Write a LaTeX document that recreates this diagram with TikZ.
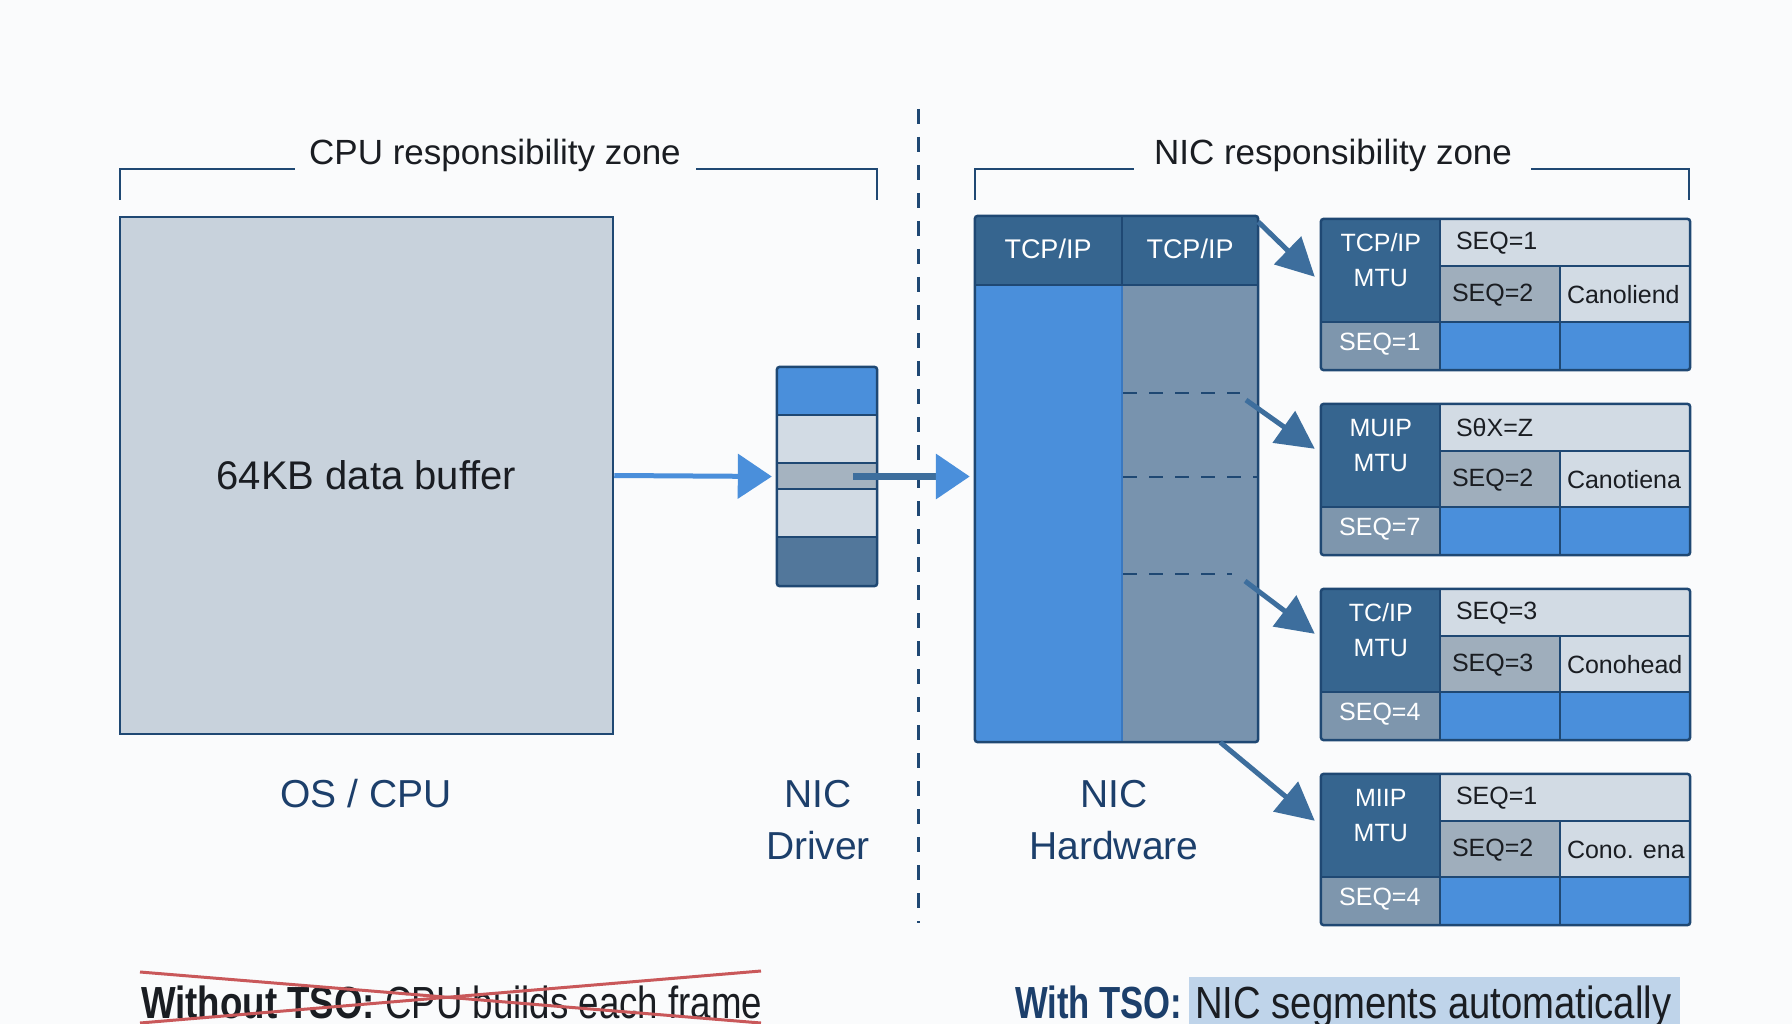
\documentclass[tikz,border=0pt]{standalone}
\usepackage{fontspec}
\setmainfont{Liberation Sans}
\usetikzlibrary{arrows.meta,calc}
\definecolor{bgc}{HTML}{FAFBFC}
\definecolor{navy}{HTML}{1F4873}
\definecolor{txtblue}{HTML}{1C3F6B}
\definecolor{bufc}{HTML}{C8D2DC}
\definecolor{bright}{HTML}{4A8FDB}
\definecolor{hdrc}{HTML}{36658F}
\definecolor{greyblue}{HTML}{7893AE}
\definecolor{lightc}{HTML}{D2DBE4}
\definecolor{midc}{HTML}{9FAEBC}
\definecolor{botc}{HTML}{7E96AD}
\definecolor{arrc}{HTML}{3D6E9D}
\definecolor{drvmid}{HTML}{A5B3C0}
\definecolor{drvdark}{HTML}{52779B}
\definecolor{redx}{HTML}{C9585A}
\definecolor{hlc}{HTML}{BFD4EA}
\definecolor{ink}{HTML}{1A1D22}
\definecolor{coldiv}{HTML}{3A78C0}

\newcommand{\mypacket}[7]{%
 \path node[minimum width=369pt, minimum height=151pt, inner sep=0pt] (#1) at (1505.5,#2+75.5) {};
 \fill[lightc] (#1.north west) rectangle ($(#1.north west)+(369,47)$);
 \fill[hdrc] (#1.north west) rectangle ($(#1.north west)+(119,103)$);
 \fill[midc] ($(#1.north west)+(119,47)$) rectangle ($(#1.north west)+(239,103)$);
 \fill[lightc] ($(#1.north west)+(239,47)$) rectangle ($(#1.north west)+(369,103)$);
 \fill[botc] ($(#1.north west)+(0,103)$) rectangle ($(#1.north west)+(119,151)$);
 \fill[bright] ($(#1.north west)+(119,103)$) rectangle (#1.south east);
 \draw[inl] ($(#1.north west)+(119,0)$) -- ($(#1.north west)+(119,151)$);
 \draw[inl] ($(#1.north west)+(119,47)$) -- ($(#1.north west)+(369,47)$);
 \draw[inl] ($(#1.north west)+(0,103)$) -- ($(#1.north west)+(369,103)$);
 \draw[inl] ($(#1.north west)+(239,47)$) -- ($(#1.north west)+(239,151)$);
 \draw[outl, rounded corners=3pt] (#1.north west) rectangle (#1.south east);
 \node[wtxt, align=center] (#1l) at ($(#1.north west)+(60,41.5)$) {#3\\MTU};
 \node[btxt, anchor=west] (#1a) at ($(#1.north west)+(135,24)$) {#4};
 \node[btxt, anchor=west] (#1b) at ($(#1.north west)+(131,76)$) {#5};
 \node[btxt, anchor=west] (#1c) at ($(#1.north west)+(246,76)$) {#6};
 \node[wtxt] (#1d) at ($(#1.north west)+(59,125)$) {#7};
}

\begin{document}
\begin{tikzpicture}[x=1pt,y=-1pt,
 outl/.style={draw=navy,line width=2.5pt},
 inl/.style={draw=navy,line width=2pt},
 brk/.style={draw=navy,line width=2pt},
 zonelab/.style={inner sep=0pt,text=ink,font=\fontsize{35pt}{42pt}\selectfont},
 biglab/.style={inner sep=0pt,text=txtblue,align=center,font=\fontsize{39pt}{52pt}\selectfont},
 wtxt/.style={inner sep=0pt,text=white,font=\fontsize{25pt}{35pt}\selectfont},
 btxt/.style={inner sep=0pt,text=ink,font=\fontsize{25pt}{35pt}\selectfont},
 nicarrow/.style={draw=arrc,line width=5pt,-{Triangle[length=38pt,width=38pt,color=arrc,fill=arrc]}},
 dashln/.style={draw=navy,line width=2.5pt,dash pattern=on 14pt off 12pt},
]
\useasboundingbox (0,0) rectangle (1792,1024);
\fill[bgc] (0,0) rectangle (1792,1024);

% zone brackets
\node[zonelab] (cpuz) at (495,155) {CPU responsibility zone};
\draw[brk] (120,200) -- (120,169) -- (295,169);
\draw[brk] (696,169) -- (877,169) -- (877,200);
\node[zonelab] (nicz) at (1333,155) {NIC responsibility zone};
\draw[brk] (975,200) -- (975,169) -- (1134,169);
\draw[brk] (1531,169) -- (1689,169) -- (1689,200);

% dashed divider
\draw[draw=navy,line width=3pt,dash pattern=on 15pt off 13pt] (918,109) -- (918,923);

% buffer
\node[outl, fill=bufc, minimum width=493pt, minimum height=517pt, inner sep=0pt,
 text=ink, font=\fontsize{40pt}{48pt}\selectfont] (buf) at (366.5,475.5) {64KB data buffer};
\node[biglab] (oscpu) at (366,794) {OS / CPU};

% driver
\path node[minimum width=100pt, minimum height=219pt, inner sep=0pt] (drv) at (827,476.5) {};
\fill[bright] (777,367) rectangle (877,415);
\fill[lightc] (777,415) rectangle (877,463);
\fill[drvmid] (777,463) rectangle (877,489);
\fill[lightc] (777,489) rectangle (877,537);
\fill[drvdark] (777,537) rectangle (877,586);
\foreach \yy in {415,463,489,537} \draw[inl] (777,\yy) -- (877,\yy);
\draw[outl, rounded corners=3pt] (drv.north west) rectangle (drv.south east);
\node[biglab] (drvlab) at (818,820) {NIC\\Driver};

% NIC hardware
\path node[minimum width=283pt, minimum height=526pt, inner sep=0pt] (nic) at (1116.5,479) {};
\fill[bright] (975,285) rectangle (1122,742);
\fill[greyblue] (1122,285) rectangle (1258,742);
\fill[hdrc] (975,216) rectangle (1258,285);
\draw[draw=navy,line width=1.5pt] (1122,216) -- (1122,285);
\draw[draw=coldiv,line width=2pt] (1122,286) -- (1122,742);
\draw[inl] (975,285) -- (1258,285);
\draw[outl, rounded corners=3pt] (nic.north west) rectangle (nic.south east);
\node[wtxt, font=\fontsize{27pt}{32pt}\selectfont] (h1) at (1048,249) {TCP/IP};
\node[wtxt, font=\fontsize{27pt}{32pt}\selectfont] (h2) at (1190,249) {TCP/IP};
\draw[dashln] (1123,393) -- (1240,393);
\draw[dashln] (1123,477) -- (1258,477);
\draw[dashln] (1123,574) -- (1232,574);
\coordinate (d1) at (1246,400);
\coordinate (d3) at (1245,581);
\node[biglab] (hwlab) at (1114,820) {NIC\\Hardware};

% packets
\mypacket{p1}{219}{TCP/IP}{SEQ=1}{SEQ=2}{Canoliend}{SEQ=1}
\mypacket{p2}{404}{MUIP}{SθX=Z}{SEQ=2}{Canotiena}{SEQ=7}
\mypacket{p3}{589}{TC/IP}{SEQ=3}{SEQ=3}{Conohead}{SEQ=4}
\mypacket{p4}{774}{MIIP}{SEQ=1}{SEQ=2}{Cono. ena}{SEQ=4}

% arrows
\draw[draw=bright,line width=5pt,-{Triangle[length=34pt,width=44pt,color=bright,fill=bright]}]
 (buf.east) -- ([xshift=-5pt]drv.west);
\draw[draw=arrc,line width=7pt,-{Triangle[length=34pt,width=44pt,color=bright,fill=bright]}]
 ([xshift=26pt]drv.center) -- ([xshift=-5pt]nic.west |- drv.center);
\draw[nicarrow] ([yshift=-6pt]nic.north east) -- ($(p1.north west)+(-6,58)$);
\draw[nicarrow] (d1) -- ($(p2.north west)+(-6,45)$);
\draw[nicarrow] (d3) -- ($(p3.north west)+(-6,45)$);
\draw[nicarrow] ([xshift=-38pt]nic.south east) -- ($(p4.north west)+(-6,47)$);

% bottom captions
\node[inner sep=0pt, anchor=base west, text=ink, font=\fontsize{45pt}{50pt}\selectfont] (wo) at (141,1018)
 {\scalebox{0.815}[1]{\textbf{Without TSO:} CPU builds each frame}};
\draw[draw=redx,line width=3pt] (140,972) -- (761,1023);
\draw[draw=redx,line width=3pt] (140,1023) -- (761,971);
\node[inner sep=0pt, anchor=base west, text=txtblue, font=\fontsize{45pt}{50pt}\selectfont] (wt) at (1015,1018)
 {\scalebox{0.77}[1]{\textbf{With TSO:}}};
\node[fill=hlc, minimum width=491pt, minimum height=47pt, inner sep=0pt, anchor=north west] (hl) at (1189,977) {};
\node[inner sep=0pt, anchor=base west, text=ink, font=\fontsize{45pt}{50pt}\selectfont] (hlt) at (1195,1018)
 {\scalebox{0.85}[1]{NIC segments automatically}};
\end{tikzpicture}
\end{document}
